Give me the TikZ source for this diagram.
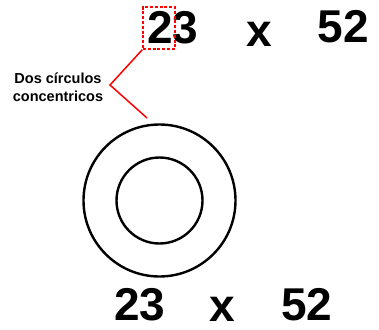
\documentclass[tikz,border=0pt]{standalone}
\usepackage{fontspec}
\setmainfont{Liberation Sans}
\begin{document}
\begin{tikzpicture}[x=1pt, y=-1pt,
    big/.style={font=\fontsize{46}{50}\selectfont\bfseries, inner sep=0pt},
    small/.style={font=\fontsize{14.5}{18}\selectfont\bfseries, align=center, inner sep=0pt},
    ring/.style={draw, line width=2.4pt},
    mark box/.style={draw=red, dash pattern=on 3pt off 1.8pt, line width=1.3pt,
      minimum width=32pt, minimum height=42pt, inner sep=0pt}]
  \useasboundingbox (0,0) rectangle (379,329);
  % numbers on top
  \node[big] (top23) at (173,28) {23};
  \node[big] (topx) at (259.5,34) {x};
  \node[big] (top52) at (343,27) {52};
  \node[mark box] (box) at (159,28) {};
  % label
  \node[small] (lbl) at (58,87) {Dos círculos\\concentricos};
  \coordinate (bend) at (110,85);
  \coordinate (tip) at (147,118);
  \draw[red, line width=1.5pt] (box.south west) -- (bend) -- (tip);
  % circles
  \node[ring, circle, minimum size=152pt, inner sep=0pt] (outer) at (159.5,200.5) {};
  \node[ring, circle, minimum size=86pt, inner sep=0pt] (inner) at (outer.center) {};
  % numbers at the bottom
  \node[big] (bot23) at (140,305) {23};
  \node[big] (botx) at (222.5,309) {x};
  \node[big] (bot52) at (307,305) {52};
\end{tikzpicture}
\end{document}
